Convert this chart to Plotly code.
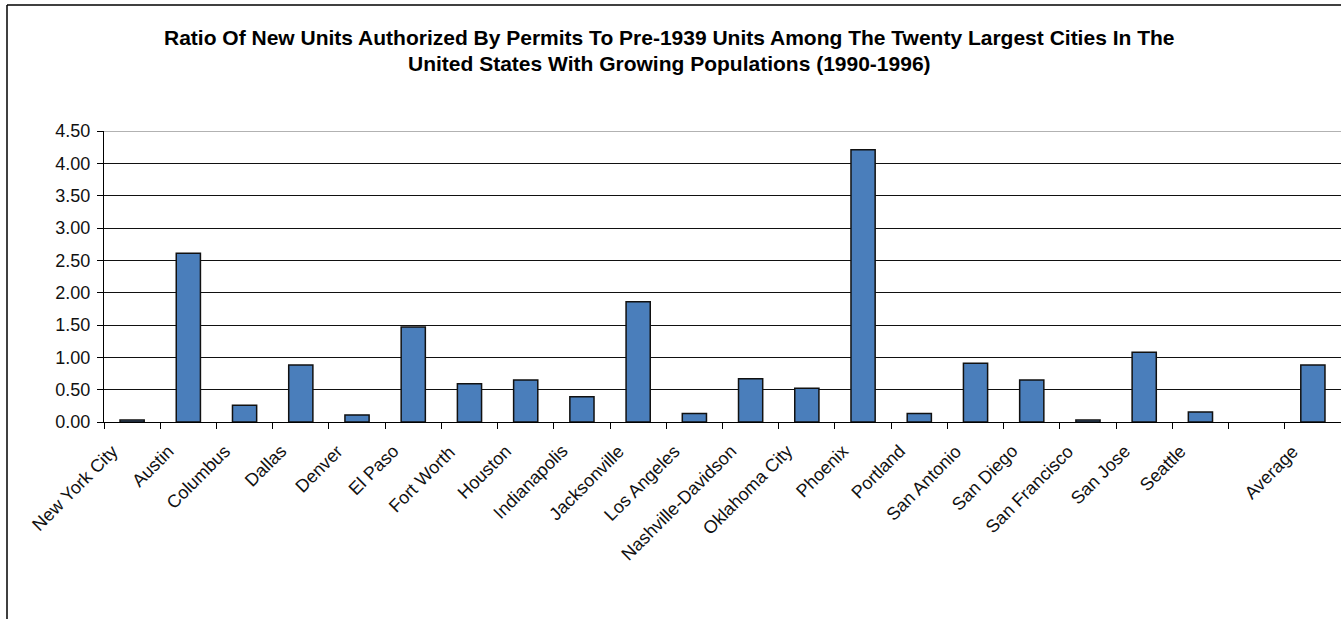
import plotly.graph_objects as go

categories = ["New York City", "Austin", "Columbus", "Dallas", "Denver", "El Paso",
              "Fort Worth", "Houston", "Indianapolis", "Jacksonville", "Los Angeles",
              "Nashville-Davidson", "Oklahoma City", "Phoenix", "Portland", "San Antonio",
              "San Diego", "San Francisco", "San Jose", "Seattle", " ", "Average"]
ratios = [0.03, 2.61, 0.26, 0.88, 0.11, 1.47, 0.59, 0.65, 0.39, 1.86, 0.13,
          0.67, 0.52, 4.21, 0.13, 0.91, 0.65, 0.03, 1.08, 0.155, None, 0.88]
y_ticks = [0, 0.5, 1.0, 1.5, 2.0, 2.5, 3.0, 3.5, 4.0, 4.5]
y_tick_labels = ["0.00", "0.50", "1.00", "1.50", "2.00", "2.50", "3.00", "3.50", "4.00", "4.50"]
title_lines = ["Ratio Of New Units Authorized By Permits To Pre-1939 Units Among The Twenty Largest Cities In The",
               "United States With Growing Populations (1990-1996)"]

W, H = 1341, 619
L, R, T, B = 104, 0, 131, 197

fig = go.Figure()
fig.add_trace(go.Bar(
    x=categories, y=ratios,
    marker=dict(color="#4A7EBB", line=dict(color="#111111", width=1.5)),
    width=0.43,
))

font_family = "Liberation Sans, Arial, sans-serif"

fig.update_layout(
    width=W, height=H,
    margin=dict(l=L, r=R, t=T, b=B, pad=0),
    paper_bgcolor="white", plot_bgcolor="white",
    showlegend=False,
    font=dict(family=font_family, size=18, color="black"),
    xaxis=dict(
        type="category", tickson="boundaries", ticks="outside", ticklen=6,
        tickcolor="black", tickwidth=1,
        showline=True, linecolor="black", linewidth=1,
        showgrid=False, range=[-0.5, 21.5],
        showticklabels=False,
    ),
    yaxis=dict(
        range=[0, 4.5], tickvals=y_ticks, ticktext=y_tick_labels,
        ticks="outside", ticklen=6, tickcolor="black",
        showline=True, linecolor="black", linewidth=1,
        showgrid=True, gridcolor="#111111", gridwidth=1,
        zeroline=False, ticklabelstandoff=3,
        tickfont=dict(family=font_family, size=18, color="#111111"),
    ),
)

pw = W - L - R
ph = H - T - B
def px_x(x):
    return (x - L) / pw
def px_y(y):
    return (H - B - y) / ph

# category labels, rotated like the reference
for c in categories:
    if not c.strip():
        continue
    fig.add_annotation(text=c, xref="x", yref="paper", x=c, y=px_y(440),
                       xanchor="right", yanchor="top", xshift=-9,
                       textangle=-45, showarrow=False, borderpad=0,
                       font=dict(family=font_family, size=18, color="#111111"))

# chart border (top and left edges visible)
fig.add_shape(type="line", xref="paper", yref="paper",
              x0=px_x(7), x1=px_x(W + 5), y0=px_y(5), y1=px_y(5),
              line=dict(color="black", width=1.5))
fig.add_shape(type="line", xref="paper", yref="paper",
              x0=px_x(7), x1=px_x(7), y0=px_y(5), y1=px_y(H + 5),
              line=dict(color="black", width=1.5))
# lighter top gridline as in the reference
fig.add_shape(type="line", xref="paper", yref="y",
              x0=0, x1=1, y0=y_ticks[-1], y1=y_ticks[-1],
              line=dict(color="#999999", width=1.5))

for line, yc in zip(title_lines, [37, 64]):
    fig.add_annotation(text="<b>" + line + "</b>", xref="paper", yref="paper",
                       x=px_x(669), y=px_y(yc), xanchor="center", yanchor="middle",
                       showarrow=False, font=dict(family=font_family, size=21, color="black"))

fig.write_html("out.html")
